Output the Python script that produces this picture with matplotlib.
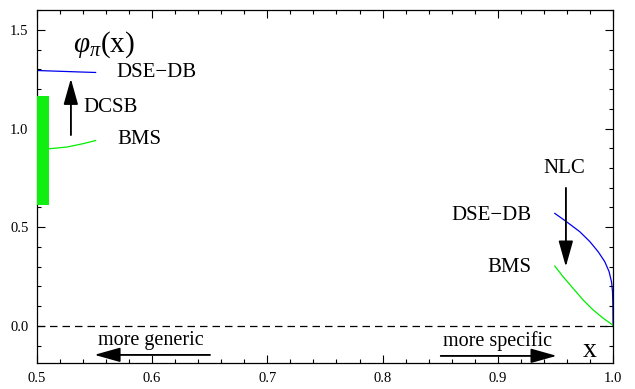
import matplotlib
matplotlib.use("Agg")
import matplotlib.pyplot as plt
from matplotlib.ticker import MultipleLocator

plt.rcParams['font.family'] = ['Liberation Serif', 'DejaVu Serif']
plt.rcParams['mathtext.fontset'] = 'custom'
plt.rcParams['mathtext.rm'] = 'Liberation Serif'
plt.rcParams['mathtext.it'] = 'Liberation Serif:italic'

# values
dse_mid_x = [0.500, 0.510, 0.520, 0.530, 0.540, 0.551]
dse_mid_y = [1.294, 1.292, 1.290, 1.288, 1.286, 1.284]
bms_mid_x = [0.500, 0.510, 0.526, 0.540, 0.551]
bms_mid_y = [0.885, 0.897, 0.906, 0.923, 0.939]

dse_end_x = [0.9494, 0.9595, 0.9711, 0.9798, 0.9870, 0.9928, 0.9965, 0.9986, 0.9995, 0.9998, 1.000]
dse_end_y = [0.570, 0.528, 0.477, 0.427, 0.376, 0.325, 0.275, 0.224, 0.174, 0.106, 0.000]
bms_end_x = [0.9494, 0.9566, 0.9653, 0.9740, 0.9826, 0.9913, 0.9995, 1.000]
bms_end_y = [0.303, 0.249, 0.190, 0.131, 0.081, 0.039, 0.005, 0.000]

band_x = (0.500, 0.5105)
band_y = (0.613, 1.163)

fig = plt.figure(figsize=(6.35, 3.89), dpi=100)
ax = fig.add_axes([0.058, 0.066, 0.9075, 0.908])

ax.plot(dse_mid_x, dse_mid_y, color='#0000ee', lw=0.9)
ax.plot(bms_mid_x, bms_mid_y, color='#00ee00', lw=0.9)
ax.plot(dse_end_x, dse_end_y, color='#0000ee', lw=0.9)
ax.plot(bms_end_x, bms_end_y, color='#00ee00', lw=0.9)
ax.fill_between(band_x, band_y[0], band_y[1], color='#11ee11', lw=0, zorder=3)

ax.axhline(0, color='black', lw=0.9, ls=(0, (6, 4)))

def arrow(x0, y0, x1, y1):
    ax.annotate('', xy=(x1, y1), xytext=(x0, y0),
                arrowprops=dict(arrowstyle='-|>,head_length=1.6,head_width=0.45',
                                color='#444444', lw=1.2, shrinkA=0, shrinkB=0,
                                fc='black', ec='black'))
    ax.plot([x0, x0 + (x1 - x0) * 0.8], [y0, y0 + (y1 - y0) * 0.8],
            color='#555555', lw=1.2)

arrow(0.5295, 0.968, 0.5295, 1.252)
arrow(0.959, 0.698, 0.959, 0.300)
arrow(0.650, -0.147, 0.550, -0.147)
arrow(0.8504, -0.152, 0.951, -0.152)

fs = 15
ax.text(0.531, 1.424, r'$\varphi_\pi$(x)', fontsize=21, va='center', ha='left')
ax.text(0.5694, 1.282, 'DSE\u2212DB', fontsize=fs, va='center', ha='left')
ax.text(0.540, 1.105, 'DCSB', fontsize=fs, va='center', ha='left')
ax.text(0.5703, 0.943, 'BMS', fontsize=fs, va='center', ha='left')
ax.text(0.9575, 0.796, 'NLC', fontsize=fs, va='center', ha='center')
ax.text(0.929, 0.557, 'DSE\u2212DB', fontsize=fs, va='center', ha='right')
ax.text(0.929, 0.296, 'BMS', fontsize=fs, va='center', ha='right')
ax.text(0.599, -0.074, 'more generic', fontsize=14.5, va='center', ha='center')
ax.text(0.900, -0.079, 'more specific', fontsize=14.5, va='center', ha='center')
ax.text(0.980, -0.125, 'x', fontsize=20, va='center', ha='center')

ax.set_xlim(0.5, 1.0)
ax.set_ylim(-0.19, 1.6)
ax.xaxis.set_major_locator(MultipleLocator(0.1))
ax.xaxis.set_minor_locator(MultipleLocator(0.02))
ax.yaxis.set_major_locator(MultipleLocator(0.5))
ax.yaxis.set_minor_locator(MultipleLocator(0.1))
ax.xaxis.set_major_formatter(plt.FuncFormatter(lambda v, p: f'{v:.1f}'))
ax.yaxis.set_major_formatter(plt.FuncFormatter(lambda v, p: f'{v:.1f}'))
ax.tick_params(which='both', direction='in', top=True, right=True, labelsize=10.5, width=0.8)
ax.tick_params(which='major', length=6, pad=6)
ax.tick_params(which='minor', length=3)
for s in ax.spines.values():
    s.set_linewidth(0.9)

fig.savefig('out.png', dpi=100)
